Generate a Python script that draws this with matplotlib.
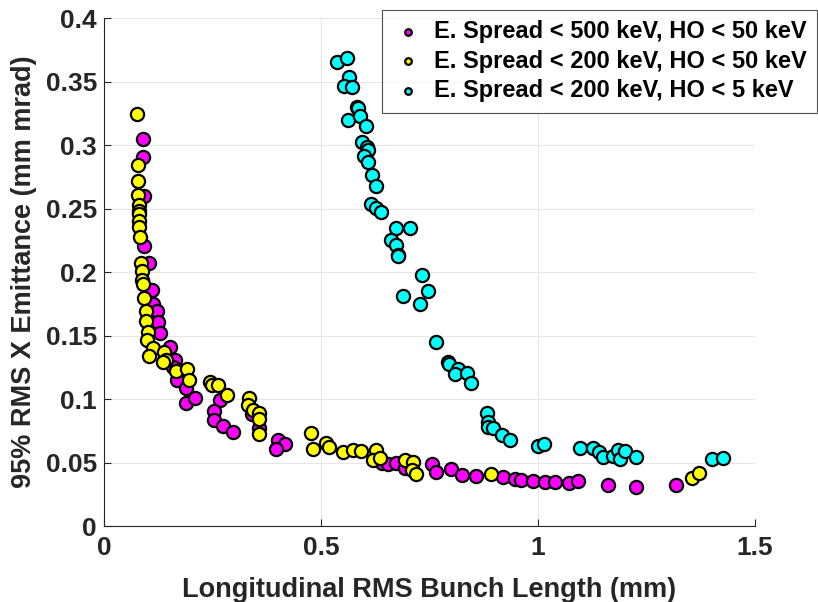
import matplotlib
matplotlib.use("Agg")
import matplotlib.pyplot as plt

# values
mag_x = [0.090, 0.090, 0.093, 0.093, 0.104, 0.110, 0.112, 0.123, 0.124, 0.129,
         0.152, 0.164, 0.160, 0.169, 0.189, 0.189, 0.210, 0.267, 0.254, 0.254,
         0.275, 0.297, 0.342, 0.358, 0.402, 0.417, 0.396, 0.640, 0.655, 0.674,
         0.694, 0.755, 0.765, 0.799, 0.824, 0.857, 0.919, 0.947, 0.962, 0.988,
         1.016, 1.039, 1.072, 1.093, 1.162, 1.226, 1.318]
mag_y = [0.305, 0.291, 0.260, 0.2205, 0.2073, 0.186, 0.175, 0.169, 0.161, 0.152,
         0.1407, 0.131, 0.125, 0.115, 0.1084, 0.097, 0.1005, 0.099, 0.0908, 0.0835,
         0.0787, 0.0743, 0.088, 0.077, 0.0677, 0.0646, 0.0604, 0.050, 0.0493, 0.0498,
         0.046, 0.049, 0.0428, 0.0446, 0.040, 0.0394, 0.0388, 0.0375, 0.0362, 0.0354,
         0.0349, 0.0349, 0.0341, 0.0354, 0.0323, 0.031, 0.0323]

yel_x = [0.077, 0.078, 0.079, 0.079, 0.081, 0.080, 0.081, 0.082, 0.082, 0.083,
         0.0845, 0.087, 0.088, 0.089, 0.093, 0.097, 0.098, 0.102, 0.100, 0.114,
         0.104, 0.138, 0.143, 0.137, 0.166, 0.1905, 0.1966, 0.244, 0.250, 0.263,
         0.284, 0.335, 0.3325, 0.344, 0.358, 0.358, 0.357, 0.477, 0.481, 0.511,
         0.519, 0.551, 0.573, 0.592, 0.628, 0.619, 0.636, 0.694, 0.711, 0.709,
         0.720, 0.892, 1.354, 1.372]
yel_y = [0.3247, 0.2845, 0.272, 0.261, 0.253, 0.248, 0.2457, 0.240, 0.2357, 0.2278,
         0.2073, 0.2008, 0.1937, 0.191, 0.180, 0.169, 0.1617, 0.153, 0.1465, 0.140,
         0.134, 0.137, 0.1307, 0.129, 0.1223, 0.1234, 0.115, 0.1136, 0.111, 0.111,
         0.103, 0.1005, 0.0953, 0.0913, 0.0887, 0.084, 0.0724, 0.0735, 0.0606, 0.0656,
         0.0624, 0.0585, 0.0598, 0.059, 0.0598, 0.052, 0.0533, 0.052, 0.0506, 0.0441,
         0.041, 0.041, 0.038, 0.0415]

cya_x = [0.538, 0.561, 0.5645, 0.554, 0.572, 0.582, 0.585, 0.563, 0.590, 0.603,
         0.594, 0.605, 0.609, 0.600, 0.609, 0.618, 0.628, 0.615, 0.626, 0.638,
         0.674, 0.705, 0.661, 0.674, 0.677, 0.678, 0.7335, 0.747, 0.690, 0.728,
         0.764, 0.7935, 0.794, 0.815, 0.809, 0.836, 0.846, 0.882, 0.8855, 0.8855,
         0.8955, 0.916, 0.9355, 1.001, 1.014, 1.097, 1.126, 1.141, 1.150, 1.172,
         1.185, 1.189, 1.200, 1.226, 1.400, 1.426]
cya_y = [0.3651, 0.3687, 0.3538, 0.3467, 0.3459, 0.3302, 0.329, 0.3197, 0.323, 0.3152,
         0.3026, 0.2987, 0.296, 0.2916, 0.2869, 0.2764, 0.268, 0.2533, 0.2507, 0.2475,
         0.235, 0.2344, 0.2252, 0.2213, 0.2134, 0.2126, 0.1976, 0.185, 0.1813, 0.1746,
         0.1451, 0.1294, 0.128, 0.1236, 0.1194, 0.1202, 0.1124, 0.0887, 0.082, 0.078,
         0.0769, 0.0717, 0.0677, 0.063, 0.0643, 0.0612, 0.0612, 0.0585, 0.0546, 0.0551,
         0.0598, 0.0525, 0.059, 0.0546, 0.0528, 0.0533]

labels = ["E. Spread < 500 keV, HO < 50 keV",
          "E. Spread < 200 keV, HO < 50 keV",
          "E. Spread < 200 keV, HO < 5 keV"]
colors = ["#ff00ff", "#ffff00", "#00ffff"]

plt.rcParams["font.family"] = ["Liberation Sans", "DejaVu Sans"]
plt.rcParams["font.weight"] = "bold"

fig = plt.figure(figsize=(8.18, 6.02), dpi=100)
ax = fig.add_axes([0.127, 0.126, 0.796, 0.844])

for xs, ys, c, lab in zip([mag_x, yel_x, cya_x], [mag_y, yel_y, cya_y], colors, labels):
    ax.scatter(xs, ys, s=90, c=c, edgecolors="black", linewidths=1.6, label=lab, zorder=3)

ax.set_xlim(0, 1.5); ax.set_ylim(0, 0.4)
ax.set_xticks([0, 0.5, 1, 1.5]); ax.set_xticklabels(["0", "0.5", "1", "1.5"])
ax.set_yticks([0, 0.05, 0.1, 0.15, 0.2, 0.25, 0.3, 0.35, 0.4])
ax.set_yticklabels(["0", "0.05", "0.1", "0.15", "0.2", "0.25", "0.3", "0.35", "0.4"])
ax.grid(True, color="#e6e6e6", linewidth=0.8, zorder=0)
ax.set_axisbelow(True)
for s in ("top", "right"):
    ax.spines[s].set_visible(False)
for s in ("left", "bottom"):
    ax.spines[s].set_color("#262626"); ax.spines[s].set_linewidth(0.8)
ax.tick_params(direction="in", length=5, width=0.8, color="#262626",
               labelsize=19, labelcolor="#262626")
ax.tick_params(axis="x", pad=7)
ax.tick_params(axis="y", pad=5)
for t in ax.get_xticklabels() + ax.get_yticklabels():
    t.set_fontweight("bold")

ax.set_xlabel("Longitudinal RMS Bunch Length (mm)", fontsize=19.5, fontweight="bold",
              color="#262626", labelpad=12)
ax.set_ylabel("95% RMS X Emittance (mm mrad)", fontsize=19.5, fontweight="bold",
              color="#262626", labelpad=6)

leg = ax.legend(loc="upper right", bbox_to_anchor=(0.999, 0.984),
                bbox_transform=fig.transFigure, markerscale=0.5,
                prop={"weight": "bold", "size": 17}, frameon=True, fancybox=False,
                borderpad=0.45, labelspacing=0.27, handletextpad=0.45, borderaxespad=0,
                handlelength=1.3)
leg.get_frame().set_edgecolor("#262626"); leg.get_frame().set_linewidth(0.8)

fig.savefig("out.png", dpi=100)
